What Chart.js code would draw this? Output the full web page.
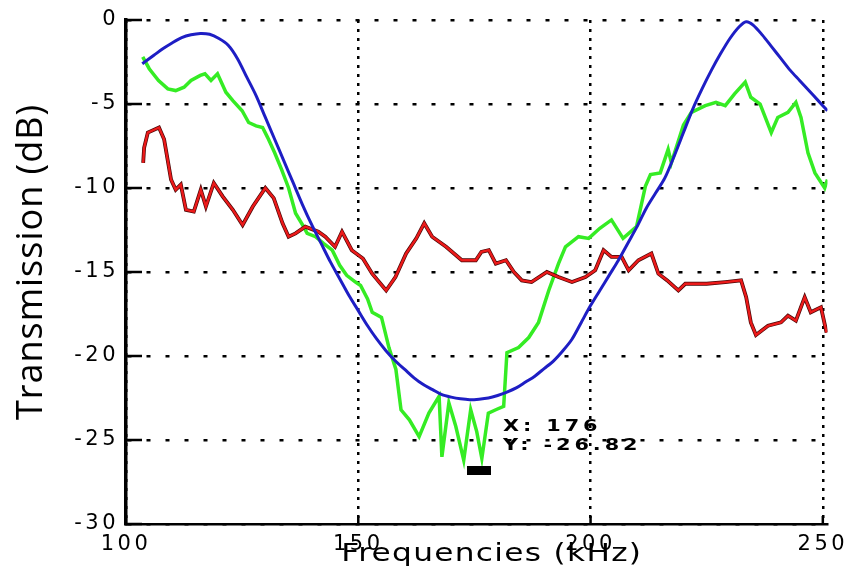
<!DOCTYPE html>
<html><head><meta charset="utf-8">
<script src="https://cdn.jsdelivr.net/npm/chart.js@4"></script>
<style>html,body{margin:0;padding:0;background:#fff}#wrap{width:851px;height:587px}</style>
</head><body><div id="wrap"><canvas id="c" width="851" height="587"></canvas></div>
<script>
// ---- data ----
const xTicks = [100, 150, 200, 250];
const yTicks = [0, -5, -10, -15, -20, -25, -30];

const blueFreq = [103.5,106,108,110,112,114,116,118,120,122,124,126,128,130,132,134,136,138,140,142,144,146,148,150,152,154,156,158,160,162,164,166,168,170,172,174,176,178,180,182,184,186,188,190,192,194,196,198,200,202,204,206,208,210,212,214,216,218,220,222,224,226,228,230,232,233.5,235,237,239,241,243,245,247,249,251];
const blueDb = [-2.6,-2.1,-1.7,-1.35,-1.05,-0.88,-0.8,-0.85,-1.1,-1.5,-2.3,-3.4,-4.5,-5.8,-7.1,-8.4,-9.7,-11.0,-12.2,-13.3,-14.4,-15.4,-16.4,-17.3,-18.2,-19.0,-19.7,-20.3,-20.8,-21.3,-21.7,-22.0,-22.3,-22.45,-22.55,-22.6,-22.57,-22.5,-22.35,-22.15,-21.9,-21.55,-21.2,-20.75,-20.3,-19.7,-19.0,-18.0,-17.0,-16.1,-15.2,-14.3,-13.3,-12.3,-11.2,-10.3,-9.4,-8.1,-6.7,-5.3,-4.1,-3.0,-2.0,-1.1,-0.4,-0.1,-0.3,-0.9,-1.6,-2.3,-3.0,-3.6,-4.2,-4.8,-5.4];

const greenFreq = [103.6,105,107,109,110.7,112.5,114,116,117,118.3,119.7,121.5,123,125,126.4,128,129.4,130.5,132,133.5,135,136.5,138,139,140.8,142.5,144.4,146,147.5,149.4,150.5,152,153,155,156.6,158.1,159.2,161,163.1,165.2,167.4,168,169.5,171,172.7,174.2,175.5,176.6,178,179.6,181.3,182,184.5,186.7,188.8,191,193.1,194.6,197.4,199.6,202,204.5,207,209.9,211.8,212.9,215,216.7,217.4,220,221.7,224.7,227,229,231,233.3,234.5,236.5,238.9,240.3,242.5,244.2,245.3,246.8,248.3,250.4,251];
const greenDb = [-2.2,-2.9,-3.6,-4.1,-4.2,-4.0,-3.6,-3.3,-3.2,-3.6,-3.2,-4.3,-4.8,-5.4,-6.1,-6.3,-6.4,-7.0,-7.9,-8.9,-10.0,-11.5,-12.2,-12.7,-12.9,-13.3,-13.7,-14.6,-15.2,-15.6,-15.8,-16.6,-17.4,-17.7,-19.5,-20.8,-23.2,-23.8,-24.8,-23.4,-22.4,-26.0,-22.8,-24.2,-26.2,-23.2,-24.5,-26.1,-23.4,-23.2,-23.0,-19.8,-19.5,-18.9,-18.0,-16.1,-14.5,-13.5,-12.9,-13.0,-12.4,-11.9,-13.0,-12.3,-9.9,-9.2,-9.1,-7.7,-8.5,-6.25,-5.5,-5.1,-4.9,-5.1,-4.4,-3.7,-4.6,-5.0,-6.7,-5.8,-5.5,-4.9,-5.8,-7.9,-9.1,-10.0,-9.5];

const redFreq = [103.7,103.9,104.7,107.1,108.2,109.7,110.7,111.8,112.9,114.6,116.1,117.2,118.9,120.8,123,125.1,127.3,130,131.8,133.7,135,136.5,138.6,141.4,142.9,145,146.5,148.6,151,153,156,158,160.3,162.5,164.2,165.9,168.9,172.3,175.3,176.5,178.1,179.6,181.8,183.5,185.2,187.3,190.6,193.1,196,198.9,201,202.8,204.5,206.7,208.2,210.3,213.1,214.6,216.5,218.9,220.4,225,229,232.4,233.5,234.5,235.6,238.2,241,242.5,244.2,246.1,247.4,249.6,250.8];
const redDb = [-8.5,-7.6,-6.7,-6.4,-7.1,-9.5,-10.1,-9.8,-11.3,-11.4,-10.1,-11.1,-9.7,-10.5,-11.3,-12.2,-11.1,-10.0,-10.6,-12.1,-12.9,-12.7,-12.3,-12.6,-12.9,-13.5,-12.6,-13.7,-14.2,-15.1,-16.1,-15.3,-13.9,-13.0,-12.1,-12.9,-13.5,-14.3,-14.3,-13.8,-13.7,-14.5,-14.3,-15.0,-15.5,-15.6,-15.0,-15.3,-15.6,-15.3,-14.9,-13.7,-14.1,-14.1,-14.9,-14.3,-13.9,-15.1,-15.5,-16.1,-15.7,-15.7,-15.6,-15.5,-16.5,-18.0,-18.75,-18.2,-18.0,-17.6,-17.9,-16.5,-17.4,-17.1,-18.6];

const tipX = 176;
const tipY = -26.82;
const tipLabels = ['X: 176', 'Y: -26.82'];

// ---- helpers ----
const pts = (xs, ys) => xs.map((x, i) => ({x: x, y: ys[i]}));

const marker = document.createElement('canvas');
marker.width = 24; marker.height = 9;
(function(){ const m = marker.getContext('2d'); m.fillStyle = '#000'; m.fillRect(0,0,24,9); })();

function tweakText(scale, dx, dy, sx, titleSpacing, labelSpacing) {
  if (scale._tweaked) return;
  scale._tweaked = true;
  const dt = scale.drawTitle, dl = scale.drawLabels;
  scale.drawTitle = function() {
    const c = this.ctx; c.save();
    const cx = (this.left + this.right) / 2;
    c.translate(cx + dx, dy); c.scale(sx, 1); c.translate(-cx, 0);
    c.letterSpacing = titleSpacing;
    dt.apply(this, arguments); c.restore();
  };
  scale.drawLabels = function() {
    const c = this.ctx; c.save(); c.letterSpacing = labelSpacing;
    dl.apply(this, arguments); c.restore();
  };
}

const innerTicks = {
  id: 'innerTicks',
  beforeDatasetsDraw(chart) {
    const {ctx, chartArea: a, scales: {x, y}} = chart;
    ctx.save();
    ctx.strokeStyle = '#000';
    ctx.lineWidth = 2.5;
    ctx.beginPath();
    y.ticks.forEach(t => { const p = y.getPixelForValue(t.value); ctx.moveTo(a.left, p); ctx.lineTo(a.left + 16, p); });
    x.ticks.forEach(t => { const p = x.getPixelForValue(t.value); ctx.moveTo(p, a.bottom); ctx.lineTo(p, a.bottom - 8); });
    ctx.stroke();
    ctx.restore();
  }
};

const tipText = {
  id: 'tipText',
  afterDatasetsDraw(chart) {
    const {ctx, scales: {x, y}} = chart;
    const px = x.getPixelForValue(tipX), py = y.getPixelForValue(tipY);
    ctx.save();
    ctx.translate(px + 24, py);
    ctx.scale(1.3, 1);
    ctx.letterSpacing = '3px';
    ctx.font = 'bold 16px "DejaVu Sans"';
    ctx.fillStyle = '#000';
    ctx.textAlign = 'left';
    ctx.textBaseline = 'middle';
    ctx.fillText(tipLabels[0], 0, -44);
    ctx.fillText(tipLabels[1], 0, -25);
    ctx.restore();
  }
};

new Chart(document.getElementById('c'), {
  type: 'line',
  data: {
    datasets: [
      {label: 'marker', data: [{x: tipX, y: tipY}], showLine: false, pointStyle: marker, pointRadius: 6, pointHoverRadius: 6},
      {label: 'model', data: pts(blueFreq, blueDb), borderColor: '#1e1ec4', borderWidth: 3, pointRadius: 0, tension: 0.3},
      {label: 'red', data: pts(redFreq, redDb), borderColor: '#ec1a1a', borderWidth: 2.4, pointRadius: 0, tension: 0},
      {label: 'red edge', data: pts(redFreq, redDb), borderColor: '#4a0606', borderWidth: 3.8, pointRadius: 0, tension: 0},
      {label: 'green', data: pts(greenFreq, greenDb), borderColor: '#35ec24', borderWidth: 3.5, pointRadius: 0, tension: 0}
    ]
  },
  options: {
    responsive: false,
    animation: false,
    devicePixelRatio: 1,
    layout: {padding: {left: 0, right: 20, top: 20, bottom: 0}},
    plugins: {legend: {display: false}, tooltip: {enabled: false}},
    scales: {
      x: {
        type: 'linear', min: 100, max: 251,
        afterBuildTicks: s => { s.ticks = xTicks.map(v => ({value: v})); },
        afterFit: s => { s.height = 63; },
        afterUpdate: s => tweakText(s, 15, 0, 1.3, '1px', '3.5px'),
        grid: {color: '#000', lineWidth: 2.5, drawTicks: false},
        border: {display: true, color: '#000', width: 2.5, dash: [3, 6]},
        ticks: {color: '#000', font: {family: 'DejaVu Sans', size: 21}, padding: 8, maxRotation: 0, autoSkip: false},
        title: {display: true, text: 'Frequencies (kHz)', color: '#000', font: {family: 'DejaVu Sans', size: 24}, padding: {top: 0, bottom: 18}}
      },
      y: {
        type: 'linear', min: -30, max: 0,
        afterBuildTicks: s => { s.ticks = yTicks.map(v => ({value: v})); },
        afterFit: s => { s.width = 126; },
        afterUpdate: s => tweakText(s, 0, -10, 1, '1px', '3.5px'),
        grid: {color: '#000', lineWidth: 2.5, drawTicks: false},
        border: {display: true, color: '#000', width: 3.5, dash: [4, 15]},
        ticks: {color: '#000', font: {family: 'DejaVu Sans', size: 21}, padding: 7},
        title: {display: true, text: 'Transmission (dB)', color: '#000', font: {family: 'Open Sans', size: 36}, padding: {top: 10, bottom: 0}}
      }
    }
  },
  plugins: [innerTicks, tipText]
});
</script>
</body></html>
